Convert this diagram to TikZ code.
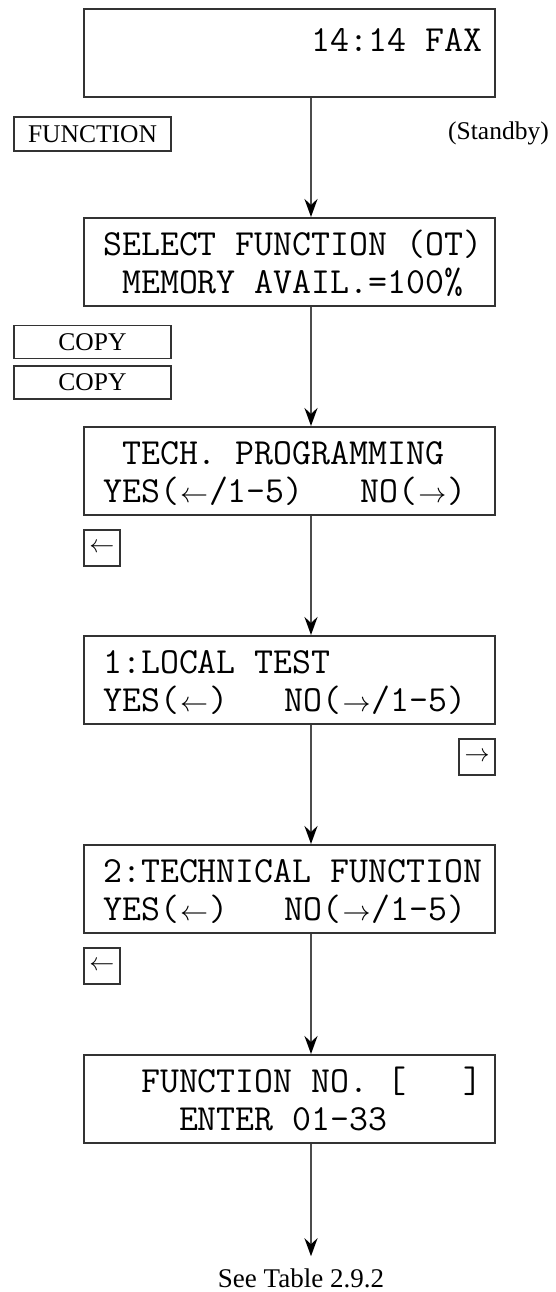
\RequirePackage{fix-cm}
\documentclass[tikz,border=0pt]{standalone}
\usepackage{fontspec}
\setmainfont{Liberation Serif}
\usetikzlibrary{arrows.meta,positioning}

% arrow glyphs of the display
\newcommand\lcdleft{\makebox[30pt]{\fontsize{28}{30}\selectfont$\leftarrow$}}
\newcommand\lcdright{\makebox[30pt]{\fontsize{28}{30}\selectfont$\rightarrow$}}

\begin{document}
\begin{tikzpicture}[x=1pt,y=-1pt,->,>={Stealth[length=18pt,width=13pt,inset=6pt,color=black]},
  screen/.style={rectangle,draw=black!80,line width=2pt,minimum width=411pt,minimum height=88pt,inner sep=0pt},
  lcd line/.style={anchor=base west,inner sep=0pt,font=\ttfamily\fontsize{36.8}{40}\selectfont},
  key/.style={rectangle,draw=black!80,line width=1.8pt,inner sep=0pt,font=\fontsize{25.5}{30}\selectfont,minimum width=157pt,minimum height=33pt},
  arrow key/.style={key,minimum width=36pt,minimum height=36pt,font=\fontsize{25}{30}\selectfont},
  label/.style={inner sep=0pt,font=\fontsize{25.5}{30}\selectfont},
  flow/.style={draw=black!70,line width=2.6pt}]

  \useasboundingbox (0,0) rectangle (556,1292);
  \coordinate (axis) at (311,0);

  % display screens
  \node[screen] (s1) at (289.5,53) {};
  \node[screen] (s2) at (289.5,262) {};
  \node[screen] (s3) at (289.5,471) {};
  \node[screen] (s4) at (289.5,680) {};
  \node[screen] (s5) at (289.5,889) {};
  \node[screen] (s6) at (289.5,1099) {};

  \node[lcd line] (s1a) at ([shift={(20,44)}]s1.north west) {~~~~~~~~~~~14:14 FAX};
  \node[lcd line] (s2a) at ([shift={(20,38)}]s2.north west) {SELECT FUNCTION (OT)};
  \node[lcd line] (s2b) at ([shift={(20,76)}]s2.north west) {~MEMORY AVAIL.=100\%};
  \node[lcd line] (s3a) at ([shift={(20,38)}]s3.north west) {~TECH. PROGRAMMING};
  \node[lcd line] (s3b) at ([shift={(20,76)}]s3.north west) {YES(\lcdleft/1-5)~~~NO(\lcdright)};
  \node[lcd line] (s4a) at ([shift={(20,38)}]s4.north west) {1:LOCAL TEST};
  \node[lcd line] (s4b) at ([shift={(20,76)}]s4.north west) {YES(\lcdleft)~~~NO(\lcdright/1-5)};
  \node[lcd line] (s5a) at ([shift={(20,38)}]s5.north west) {2:TECHNICAL FUNCTION};
  \node[lcd line] (s5b) at ([shift={(20,76)}]s5.north west) {YES(\lcdleft)~~~NO(\lcdright/1-5)};
  \node[lcd line] (s6a) at ([shift={(20,38)}]s6.north west) {~~FUNCTION NO. [~~~]};
  \node[lcd line] (s6b) at ([shift={(20,76)}]s6.north west) {~~~~ENTER 01-33};

  % keys
  \node[key,minimum height=34pt] (function) at (92.5,134) {FUNCTION};
  \node[key] (copy1) at (92.5,342) {COPY};
  \node[key] (copy2) at (92.5,382.5) {COPY};
  \node[arrow key,below right=13pt and 0pt of s3.south west] (left1) {$\leftarrow$};
  \node[arrow key,below left=13pt and 0pt of s4.south east] (right1) {$\rightarrow$};
  \node[arrow key,below right=13pt and 0pt of s5.south west] (left2) {$\leftarrow$};

  \node[label] (standby) at (498.5,133) {(Standby)};
  \node[label,inner ysep=12pt,font=\fontsize{27}{30}\selectfont] (table) at (301,1278) {See Table 2.9.2};

  \draw[flow] (s1.south -| axis) -- (s2.north -| axis);
  \draw[flow] (s2.south -| axis) -- (s3.north -| axis);
  \draw[flow] (s3.south -| axis) -- (s4.north -| axis);
  \draw[flow] (s4.south -| axis) -- (s5.north -| axis);
  \draw[flow] (s5.south -| axis) -- (s6.north -| axis);
  \draw[flow] (s6.south -| axis) -- (table.north -| axis);
\end{tikzpicture}
\end{document}
